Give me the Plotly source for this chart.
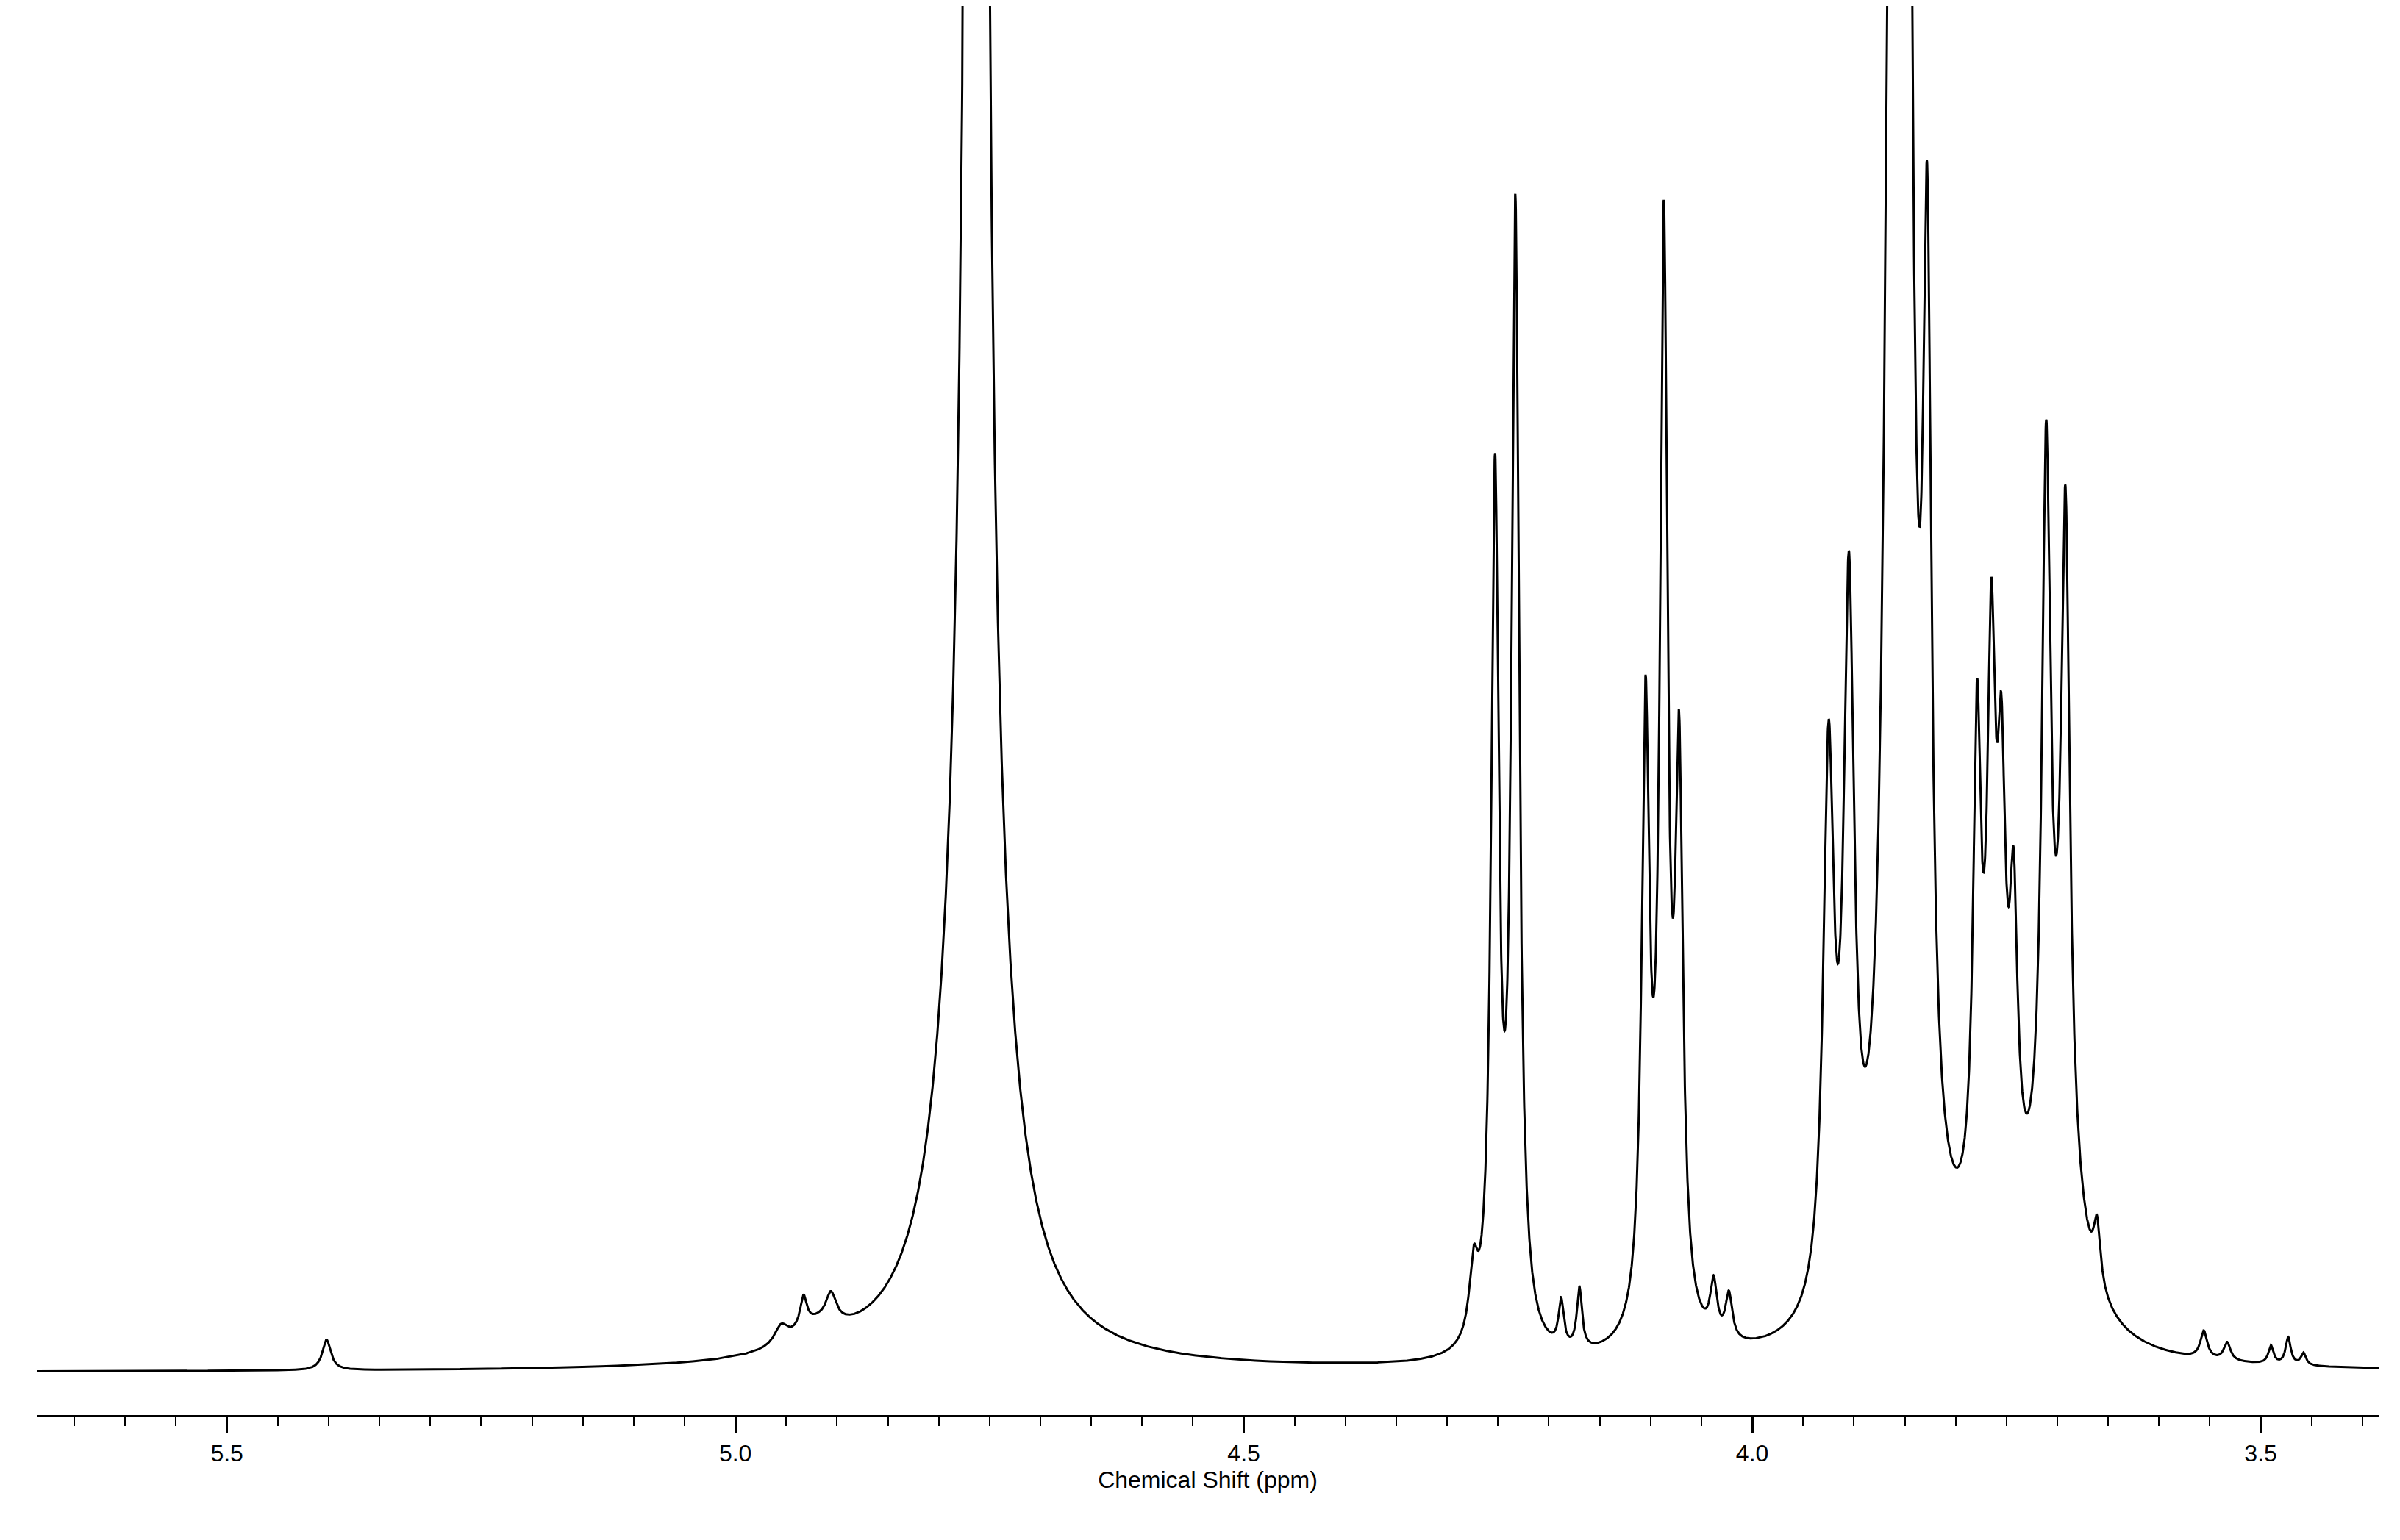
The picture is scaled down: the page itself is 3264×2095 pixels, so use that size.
import numpy as np
import plotly.graph_objects as go

# peak list: centre (ppm), height (arb.), half-width (ppm)
peak_ppm = [5.402, 4.955, 4.933, 4.906, 4.92,
            4.763, 4.763,
            4.274, 4.253, 4.233, 4.188, 4.170,
            4.105, 4.087, 4.072, 4.038, 4.023, 4.09,
            3.925, 3.905, 3.868, 3.854, 3.828, 3.845,
            3.779, 3.765, 3.755, 3.743, 3.76,
            3.711, 3.692, 3.661, 3.70,
            3.556, 3.533, 3.490, 3.473, 3.458]
peak_height = [20, 12, 20, 18, 15,
               20000, 400,
               45, 560, 740, 30, 40,
               390, 690, 350, 35, 30, 20,
               350, 440, 220, 20000, 560, 80,
               300, 290, 200, 170, 120,
               460, 420, 40, 120,
               18, 12, 12, 18, 8]
peak_width = [0.005, 0.008, 0.004, 0.006, 0.03,
              0.00226, 0.03,
              0.005, 0.0045, 0.0045, 0.003, 0.003,
              0.0045, 0.0045, 0.0045, 0.004, 0.004, 0.02,
              0.0062, 0.0062, 0.006, 0.0022, 0.005, 0.03,
              0.0045, 0.0045, 0.0045, 0.0045, 0.02,
              0.005, 0.005, 0.004, 0.025,
              0.004, 0.004, 0.003, 0.003, 0.003]

x = np.linspace(5.70, 3.38, 14000)
y = np.zeros_like(x)
for c, h, w in zip(peak_ppm, peak_height, peak_width):
    y += h * w**2 / ((x - c)**2 + w**2)

fig = go.Figure(go.Scatter(x=x, y=y, mode="lines",
                           line=dict(color="black", width=3),
                           hoverinfo="skip"))

fig.update_layout(
    width=3264, height=2095,
    margin=dict(l=42, r=37, t=0, b=178),
    plot_bgcolor="white", paper_bgcolor="white",
    showlegend=False,
    font=dict(family="Liberation Sans, Arial", size=32, color="black"),
)
fig.update_xaxes(
    range=[5.687, 3.384], showgrid=False, zeroline=False,
    showline=True, linecolor="black", linewidth=3,
    ticks="outside", ticklen=22, tickwidth=3, tickcolor="black",
    tickvals=[5.5, 5.0, 4.5, 4.0, 3.5], ticktext=["5.5", "5.0", "4.5", "4.0", "3.5"],
    minor=dict(dtick=0.05, ticks="outside", ticklen=12, tickwidth=2, tickcolor="black"),
    title=dict(text="Chemical Shift (ppm)", standoff=8, font=dict(size=32)),
)
fig.update_yaxes(range=[-28, 897], visible=False)

fig.write_html("out.html")
